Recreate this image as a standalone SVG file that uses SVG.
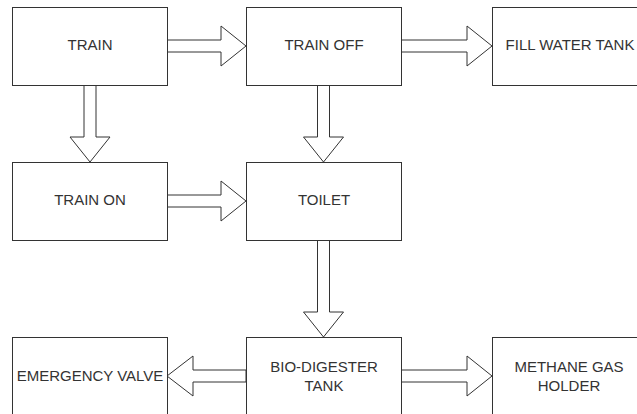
<svg xmlns="http://www.w3.org/2000/svg" width="637" height="414" viewBox="0 0 637 414">
<style>
.box{fill:#ffffff;stroke:#333333;stroke-width:1}
.arr{fill:#ffffff;stroke:#333333;stroke-width:1;stroke-linejoin:miter}
.lbl{font-family:"Liberation Sans",Arial,sans-serif;font-size:15px;fill:#333333;text-anchor:middle}
</style>
<rect width="637" height="414" fill="#ffffff"/>
<g id="connectors">
<polygon class="arr" points="167,40 221,40 221,26 246,46 221,66 221,52 167,52"/>
<polygon class="arr" points="401,40 467,40 467,26 492,46 467,66 467,52 401,52"/>
<polygon class="arr" points="84,85 84,137 70,137 90,162 110,137 96,137 96,85"/>
<polygon class="arr" points="317.5,85 317.5,137 303.5,137 323.5,162 343.5,137 329.5,137 329.5,85"/>
<polygon class="arr" points="167,195 221,195 221,181 246,201 221,221 221,207 167,207"/>
<polygon class="arr" points="317.5,240 317.5,312 303.5,312 323.5,337 343.5,312 329.5,312 329.5,240"/>
<polygon class="arr" points="246,370 193,370 193,356 167,376 193,396 193,382 246,382"/>
<polygon class="arr" points="401,370 467,370 467,356 492,376 467,396 467,382 401,382"/>
</g>
<g id="train"><rect class="box" x="12.5" y="7.5" width="155" height="78"/><text class="lbl" x="90" y="50">TRAIN</text></g>
<g id="train-off"><rect class="box" x="246.5" y="7.5" width="155" height="78"/><text class="lbl" x="324" y="50">TRAIN OFF</text></g>
<g id="fill-water-tank"><rect class="box" x="492.5" y="7.5" width="155" height="78"/><text class="lbl" x="570" y="50">FILL WATER TANK</text></g>
<g id="train-on"><rect class="box" x="12.5" y="162.5" width="155" height="78"/><text class="lbl" x="90" y="205">TRAIN ON</text></g>
<g id="toilet"><rect class="box" x="246.5" y="162.5" width="155" height="78"/><text class="lbl" x="324" y="205">TOILET</text></g>
<g id="emergency-valve"><rect class="box" x="12.5" y="337.5" width="155" height="78"/><text class="lbl" x="90" y="381">EMERGENCY VALVE</text></g>
<g id="bio-digester-tank"><rect class="box" x="246.5" y="337.5" width="155" height="78"/><text class="lbl" x="324" y="372">BIO-DIGESTER</text><text class="lbl" x="324" y="391">TANK</text></g>
<g id="methane-gas-holder"><rect class="box" x="492.5" y="337.5" width="155" height="78"/><text class="lbl" x="569" y="372">METHANE GAS</text><text class="lbl" x="569" y="391">HOLDER</text></g>
</svg>
